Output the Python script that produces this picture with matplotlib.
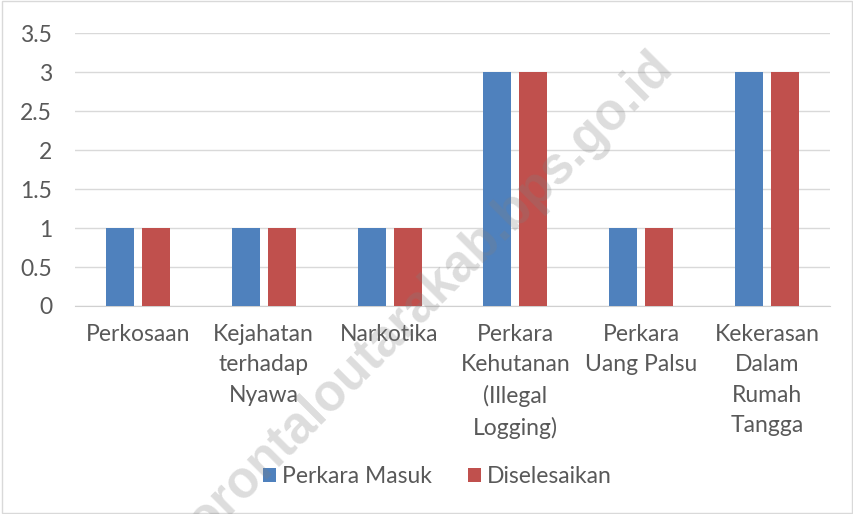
import numpy as np
import matplotlib.pyplot as plt

categories = ["Perkosaan", "Kejahatan\nterhadap\nNyawa", "Narkotika",
              "Perkara\nKehutanan\n(Illegal\nLogging)", "Perkara\nUang Palsu",
              "Kekerasan\nDalam\nRumah\nTangga"]
perkara_masuk = [1, 1, 1, 3, 1, 3]
diselesaikan = [1, 1, 1, 3, 1, 3]
yticks = [0, 0.5, 1, 1.5, 2, 2.5, 3, 3.5]
ytick_labels = ["0", "0.5", "1", "1.5", "2", "2.5", "3", "3.5"]

plt.rcParams['font.family'] = ['Lato', 'DejaVu Sans']
text_color = '#595959'

fig = plt.figure(figsize=(8.54, 5.14), dpi=100)
ax = fig.add_axes([0.0878, 0.4047, 0.884, 0.5305])

x = np.arange(len(categories))
w = 0.2226
ax.bar(x - 0.143, perkara_masuk, w, color='#4f81bd', label='Perkara Masuk', zorder=3)
ax.bar(x + 0.143, diselesaikan, w, color='#c0504d', label='Diselesaikan', zorder=3)

ax.set_xlim(-0.5, len(categories) - 0.5)
ax.set_ylim(0, 3.5)
ax.set_yticks(yticks)
ax.set_yticklabels(ytick_labels)
ax.set_xticks(x)
ax.set_xticklabels(categories, linespacing=1.55)
ax.tick_params(axis='both', length=0, colors=text_color, labelsize=16.5)
ax.tick_params(axis='x', pad=13)
ax.tick_params(axis='y', pad=16.5)
ax.yaxis.grid(True, color='#d9d9d9', linewidth=1, zorder=0)
for s in ['top', 'right', 'left']:
    ax.spines[s].set_visible(False)
ax.spines['bottom'].set_color('#d0d0d0')

fig.legend(loc='center', bbox_to_anchor=(0.512, 0.072), ncol=2, frameon=False,
           fontsize=16.5, labelcolor=text_color, handlelength=0.57, handleheight=0.57,
           handletextpad=0.25, columnspacing=1.6)

# figure border
fig.patches.append(plt.Rectangle((0.002, 0.002), 0.996, 0.996, transform=fig.transFigure,
                                 fill=False, edgecolor='#d9d9d9', linewidth=1))

# watermark
fig.text(665 / 854, 1 - 60 / 514, "gorontaloutarakab.bps.go.id", rotation=45,
         rotation_mode='anchor', ha='right', va='center', fontsize=37,
         fontweight='bold', family='Liberation Sans', color='#808080', alpha=0.27, zorder=10)

fig.savefig('out.png', dpi=100)
